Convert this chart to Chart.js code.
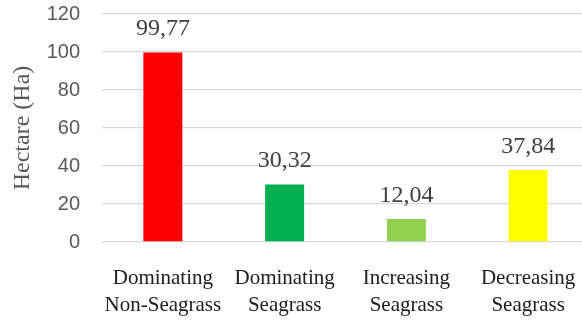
<!DOCTYPE html>
<html>
<head>
<meta charset="utf-8">
<script src="https://cdn.jsdelivr.net/npm/chart.js@4/dist/chart.umd.min.js"></script>
<style>
  html, body { margin: 0; padding: 0; background: #fff; }
  #wrap { width: 582px; height: 321px; overflow: hidden; position: relative; }
  canvas { display: block; }
</style>
</head>
<body>
<div id="wrap"><canvas id="c" width="600" height="321"></canvas></div>
<script>
// Land cover change classes and their areas in hectares
const categories = [
  ['Dominating', 'Non-Seagrass'],
  ['Dominating', 'Seagrass'],
  ['Increasing', 'Seagrass'],
  ['Decreasing', 'Seagrass']
];
const areaHa = [99.77, 30.32, 12.04, 37.84];
const valueLabels = ['99,77', '30,32', '12,04', '37,84'];
const barColors = ['#ff0000', '#00b050', '#92d050', '#ffff00'];
const yTicks = [0, 20, 40, 60, 80, 100, 120];

// Writes each bar's value just above it
const valueLabelPlugin = {
  id: 'valueLabels',
  afterDatasetsDraw(chart) {
    const ctx = chart.ctx;
    const meta = chart.getDatasetMeta(0);
    ctx.save();
    ctx.font = '24px "Liberation Serif", "Times New Roman", serif';
    ctx.fillStyle = '#404040';
    ctx.textAlign = 'center';
    ctx.textBaseline = 'alphabetic';
    meta.data.forEach((bar, i) => {
      ctx.fillText(valueLabels[i], bar.x, bar.y - 17);
    });
    ctx.restore();
  }
};

new Chart(document.getElementById('c'), {
  type: 'bar',
  data: {
    labels: categories,
    datasets: [{
      data: areaHa,
      backgroundColor: barColors,
      borderWidth: 0,
      categoryPercentage: 1,
      barPercentage: 0.32
    }]
  },
  options: {
    responsive: false,
    animation: false,
    devicePixelRatio: 1,
    layout: { padding: { top: 14, right: 11, bottom: 0, left: 0 } },
    plugins: {
      legend: { display: false },
      tooltip: { enabled: false }
    },
    scales: {
      x: {
        grid: { display: false, drawTicks: false },
        border: { display: false },
        ticks: {
          color: '#202020',
          font: { family: '"Liberation Serif", "Times New Roman", serif', size: 21, lineHeight: 1.3 },
          padding: 23,
          maxRotation: 0,
          autoSkip: false
        },
        afterFit(scale) { scale.height = 79; }
      },
      y: {
        min: 0,
        max: 120,
        afterBuildTicks(scale) { scale.ticks = yTicks.map(v => ({ value: v })); },
        grid: {
          color: '#d9d9d9',
          lineWidth: 1.3,
          drawTicks: true,
          tickLength: 22,
          tickColor: 'rgba(0,0,0,0)'
        },
        border: { display: false },
        ticks: {
          color: '#595959',
          font: { family: '"Liberation Sans", Arial, sans-serif', size: 20 },
          padding: 0
        },
        title: {
          display: true,
          text: 'Hectare (Ha)',
          color: '#595959',
          font: { family: '"Liberation Serif", "Times New Roman", serif', size: 24 },
          padding: { top: 8, bottom: 0 }
        },
        afterFit(scale) { scale.width = 102; }
      }
    }
  },
  plugins: [valueLabelPlugin]
});
</script>
</body>
</html>
